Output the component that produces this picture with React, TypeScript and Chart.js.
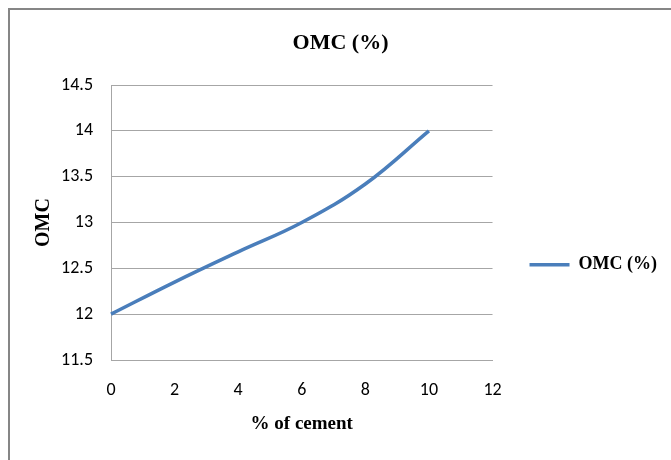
import React, { useEffect, useRef } from "react";
import { Chart, registerables } from "chart.js";

Chart.register(...registerables);

const cementPct: number[] = [0, 2, 4, 6, 8, 10];
const omcValues: number[] = [12.0, 12.35, 12.68, 13.0, 13.42, 14.0];
const seriesName = "OMC (%)";
const chartTitle = "OMC (%)";
const xTitle = "% of cement";
const yTitle = "OMC";

export default function App() {
  const ref = useRef<HTMLCanvasElement | null>(null);

  useEffect(() => {
    if (!ref.current) return;
    const serif = "'Liberation Serif', 'Times New Roman', serif";
    const tickFont = "Carlito, 'Open Sans', sans-serif";
    const chart = new Chart(ref.current, {
      type: "scatter",
      data: {
        datasets: [
          {
            label: seriesName,
            data: cementPct.map((x, i) => ({ x, y: omcValues[i] })),
            showLine: true,
            borderColor: "#4a7ebb",
            backgroundColor: "#4a7ebb",
            borderWidth: 3.5,
            pointRadius: 0,
            pointHoverRadius: 0,
            tension: 0.4,
            clip: 4,
          },
        ],
      },
      options: {
        animation: false,
        responsive: false,
        maintainAspectRatio: false,
        layout: { padding: { left: 14, right: 4, top: 0, bottom: 20.6 } },
        plugins: {
          title: {
            display: true,
            text: chartTitle,
            color: "#000",
            font: { family: serif, size: 22, weight: "bold" },
            padding: { top: 29.8, bottom: 28.8 },
          },
          legend: {
            display: true,
            position: "right",
            maxWidth: 260,
            title: {
              display: true,
              text: " ",
              font: { size: 10 },
              padding: { top: 78, bottom: 0 },
            },
            labels: {
              usePointStyle: true,
              pointStyle: "line",
              pointStyleWidth: 40,
              color: "#000",
              padding: 37,
              font: { family: serif, size: 18, weight: "bold" },
            },
          },
          tooltip: { enabled: false },
        },
        scales: {
          x: {
            type: "linear",
            min: 0,
            max: 12,
            ticks: {
              stepSize: 2,
              color: "#000",
              padding: 20,
              font: { family: tickFont, size: 18 },
              callback: (v: any) => String(v),
            },
            grid: { display: false, drawTicks: false },
            border: { display: true, color: "#a6a6a6", width: 1 },
            title: {
              display: true,
              text: xTitle,
              color: "#000",
              font: { family: serif, size: 19, weight: "bold" },
              padding: { top: 4, bottom: 4 },
            },
            afterFit: (s: any) => {
              s.height = 79.4;
            },
          },
          y: {
            type: "linear",
            min: 11.5,
            max: 14.5,
            ticks: {
              stepSize: 0.5,
              color: "#000",
              padding: 18,
              font: { family: tickFont, size: 18 },
              callback: (v: any) => String(v),
            },
            grid: { display: true, drawTicks: false, color: "#a6a6a6", lineWidth: 1 },
            border: { display: true, color: "#a6a6a6", width: 1 },
            title: {
              display: true,
              text: yTitle,
              color: "#000",
              font: { family: serif, size: 20, weight: "bold" },
              padding: { top: 18, bottom: 4 },
            },
            afterFit: (s: any) => {
              s.width = 97;
            },
          },
        },
      },
    });
    return () => chart.destroy();
  }, []);

  return (
    <div
      style={{
        position: "fixed",
        left: 0,
        top: 0,
        width: 671,
        height: 460,
        overflow: "hidden",
        background: "#fff",
      }}
    >
      <div
        style={{
          position: "absolute",
          left: 8,
          top: 8,
          width: 700,
          height: 500,
          borderLeft: "2px solid #868686",
          borderTop: "2px solid #868686",
        }}
      />
      <canvas
        ref={ref}
        width={671}
        height={460}
        style={{ position: "absolute", left: 0, top: 0, width: 671, height: 460 }}
      />
    </div>
  );
}
